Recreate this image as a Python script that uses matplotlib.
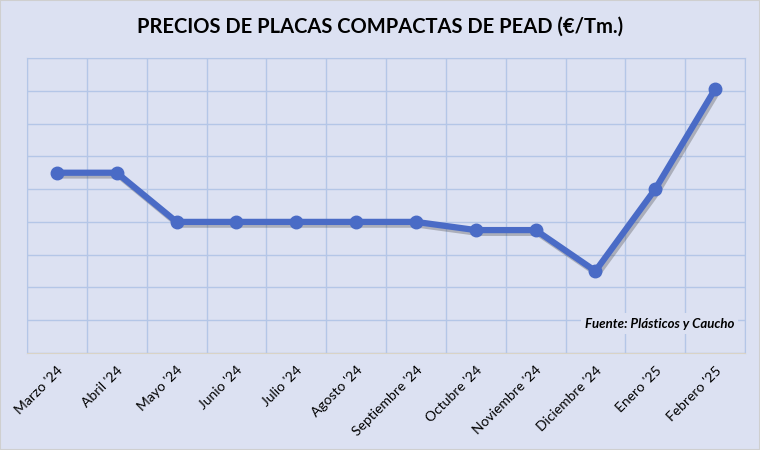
import matplotlib
matplotlib.use("Agg")
import matplotlib.pyplot as plt
import matplotlib.patheffects as pe

# Datos (unidades de la rejilla, el eje Y no muestra valores)
meses = ["Marzo '24", "Abril '24", "Mayo '24", "Junio '24", "Julio '24",
         "Agosto '24", "Septiembre '24", "Octubre '24", "Noviembre '24",
         "Diciembre '24", "Enero '25", "Febrero '25"]
precios = [5.5, 5.5, 4.0, 4.0, 4.0, 4.0, 4.0, 3.75, 3.75, 2.5, 5.0, 8.05]

fondo = "#DCE1F2"
azul = "#4A6BC6"
rejilla = "#B4C6E7"

plt.rcParams["font.family"] = ["Lato", "DejaVu Sans"]

fig = plt.figure(figsize=(7.6, 4.5), dpi=100, facecolor=fondo)
ax = fig.add_axes([27 / 760, 1 - 353 / 450, (745 - 27) / 760, (353 - 58) / 450])
ax.set_facecolor(fondo)

x = list(range(len(meses)))
# sombra suave bajo la línea
ax.plot(x, precios, color="none", linewidth=4.5, zorder=2,
        solid_joinstyle="round", solid_capstyle="round",
        path_effects=[pe.SimpleLineShadow(offset=(1.5, -2), shadow_color="#3A3A3A", alpha=0.3)])
ax.plot(x, precios, color=azul, linewidth=4.5, marker="o", markersize=9,
        markeredgecolor=azul, solid_joinstyle="round", solid_capstyle="round", zorder=3)

ax.set_xlim(-0.5, len(meses) - 0.5)
ax.set_ylim(0, 9)
ax.set_yticks(range(0, 10))
ax.set_xticks([i + 0.5 for i in range(-1, len(meses))], minor=True)
ax.set_xticks(x)
ax.set_xticklabels(meses, rotation=45, ha="right", rotation_mode="anchor", fontsize=10)
ax.tick_params(axis="x", which="major", length=0, pad=8)
ax.tick_params(axis="x", which="minor", length=0)
ax.tick_params(axis="y", length=0, labelleft=False)
ax.grid(True, axis="y", color=rejilla, linewidth=1)
ax.grid(True, axis="x", which="minor", color=rejilla, linewidth=1)
ax.set_axisbelow(True)
for s in ["top", "right", "left"]:
    ax.spines[s].set_color(rejilla)
ax.spines["bottom"].set_color("#D9D3C6")

ax.text(0.985, 0.1, "Fuente: Plásticos y Caucho", transform=ax.transAxes,
        ha="right", va="center", fontsize=9.5, fontweight="bold", style="italic",
        bbox=dict(facecolor=fondo, edgecolor="none", pad=3), zorder=4)

fig.text(0.5, 1 - 27 / 450, "PRECIOS DE PLACAS COMPACTAS DE PEAD (€/Tm.)",
         ha="center", va="center", fontsize=14.5, fontweight="bold")

fig.patches.append(plt.Rectangle((0, 0), 1, 1, transform=fig.transFigure,
                                 fill=False, edgecolor="#CFCFCF", linewidth=1.5))

fig.savefig("out.png", dpi=100, facecolor=fondo)
